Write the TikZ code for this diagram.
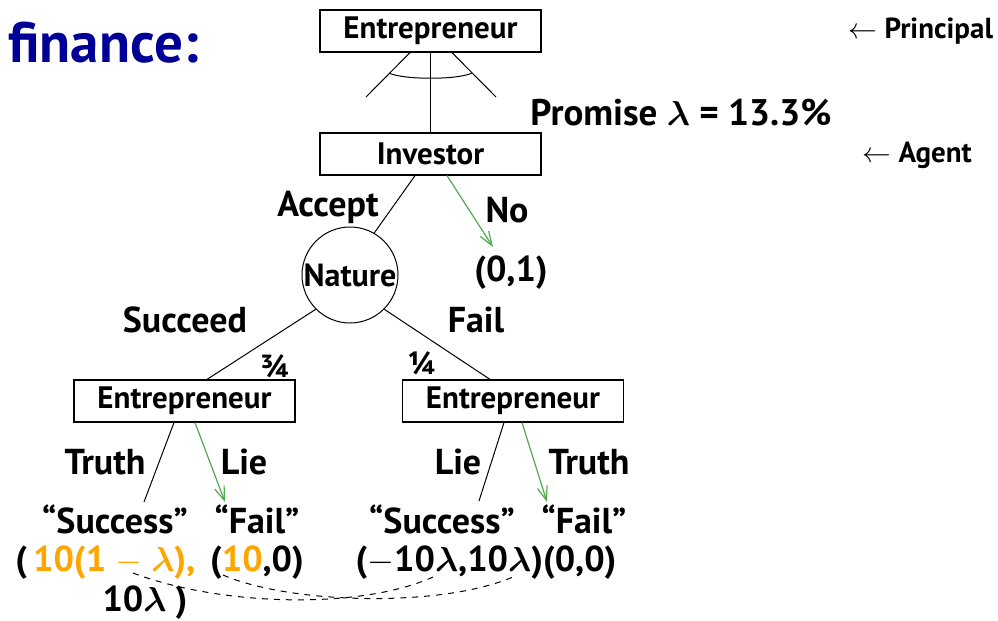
\documentclass[tikz,border=0pt]{standalone}
\usepackage{amsmath}
\usepackage{bm}
\usepackage{fontspec}
\setmainfont{PT Sans}
\usetikzlibrary{arrows.meta}
\definecolor{fblue}{RGB}{0,0,150}
\definecolor{forange}{RGB}{255,165,0}
\definecolor{fgreen}{RGB}{80,170,80}
\newcommand{\blam}{\ensuremath{\bm{\lambda}}}
\begin{document}
\begin{tikzpicture}[x=0.5pt,y=-0.5pt,
  box/.style={draw,line width=0.6pt,minimum width=110.5pt,minimum height=21pt,inner sep=0pt,font=\fontsize{15.5}{17}\selectfont\bfseries},
  lbl/.style={inner sep=0pt,font=\fontsize{18}{20}\selectfont\bfseries},
  sml/.style={inner sep=0pt,font=\fontsize{14.5}{16}\selectfont\bfseries},
  conn/.style={line width=0.5pt},
  garrow/.style={draw=fgreen,line width=0.6pt,-{Straight Barb[length=7pt,width=5pt]}},
  dashlink/.style={dashed,line width=0.5pt}]
\useasboundingbox (0,0) rectangle (998,621);
% title
\node[inner sep=0pt,anchor=base west,text=fblue,font=\fontsize{28.5}{32}\selectfont\bfseries] (title) at (8,62) {finance:};
% boxes
\node[box] (E0) at (430.5,31) {Entrepreneur};
\node[box] (I) at (430.5,154) {Investor};
\node[draw,circle,line width=0.5pt,minimum size=48pt,inner sep=0pt,font=\fontsize{16}{18}\selectfont\bfseries] (N) at (350,275) {Nature};
\node[box] (EL) at (184.5,401) {Entrepreneur};
\node[box] (ER) at (513,401) {Entrepreneur};
% side labels
\node[sml,anchor=west] (pr) at (848,31) {$\leftarrow$ Principal};
\node[sml,anchor=west] (ag) at (862,155) {$\leftarrow$ Agent};
\node[inner sep=0pt,font=\fontsize{18.5}{20}\selectfont\bfseries,anchor=west] (prom) at (530,113) {Promise \blam{} = 13.3\%};
% top fan
\coordinate (fl) at (366,97);
\coordinate (fr) at (496,97);
\draw[conn] (E0.south -| 410,0) -- (fl);
\draw[conn] (E0.south -| 452,0) -- (fr);
\draw[conn] (E0.south) -- (I.north);
\coordinate (a1) at (389,73);
\coordinate (a2) at (472,73);
\draw[conn] (a1) .. controls (403,80) and (458,80) .. (a2);
% investor
\node[lbl] (acc) at (328,207) {Accept};
\node[lbl] (no) at (507,210) {No};
\node[lbl] (p01) at (511,273) {(0,1)};
\draw[conn] (I.south -| 415,0) -- (N.60);
\coordinate (noend) at (493,247);
\draw[garrow] (I.south -| 447,0) -- (noend);
% nature
\node[lbl] (succ) at (185,320) {Succeed};
\node[lbl] (fail) at (476,320) {Fail};
\node[inner sep=0pt,font=\fontsize{16}{18}\selectfont\bfseries] (q34) at (275,366) {¾};
\node[inner sep=0pt,font=\fontsize{16}{18}\selectfont\bfseries] (q14) at (422,363) {¼};
\draw[conn] (N.225) -- (EL.north -| 207,0);
\draw[conn] (N.315) -- (ER.north -| 490,0);
% left entrepreneur
\node[lbl] (tl) at (105,462) {Truth};
\node[lbl] (ll) at (244,462) {Lie};
\coordinate (tle) at (144,502);
\coordinate (lle) at (225,502);
\draw[conn] (EL.south -| 174,0) -- (tle);
\draw[garrow] (EL.south -| 195,0) -- (lle);
% right entrepreneur
\node[lbl] (lr) at (458,462) {Lie};
\node[lbl] (tr) at (589,462) {Truth};
\coordinate (lre) at (479,501);
\coordinate (tre) at (547,502);
\draw[conn] (ER.south -| 504,0) -- (lre);
\draw[garrow] (ER.south -| 522,0) -- (tre);
% reports
\node[lbl] (s1) at (115,519) {``Success''};
\node[lbl] (f1) at (257,519) {``Fail''};
\node[lbl] (s2) at (442,519) {``Success''};
\node[lbl] (f2) at (584,519) {``Fail''};
% payoffs
\node[lbl,anchor=west] (pay1) at (15,563) {(\,\textcolor{forange}{10(1 $-$ \blam),}};
\node[lbl] (pay1b) at (145,603) {10\blam{} )};
\node[lbl] (pay2) at (257,563) {(\textcolor{forange}{10},0)};
\node[lbl] (pay3) at (486,563) {($-$10\blam,10\blam)(0,0)};
% dashed links
\coordinate (d1) at (133,573);
\coordinate (d2) at (433,577);
\coordinate (d3) at (223,575);
\coordinate (d4) at (513,577);
\draw[dashlink] (d1) .. controls (220,606) and (360,610) .. (d2);
\draw[dashlink] (d3) .. controls (290,604) and (440,608) .. (d4);
\end{tikzpicture}
\end{document}
